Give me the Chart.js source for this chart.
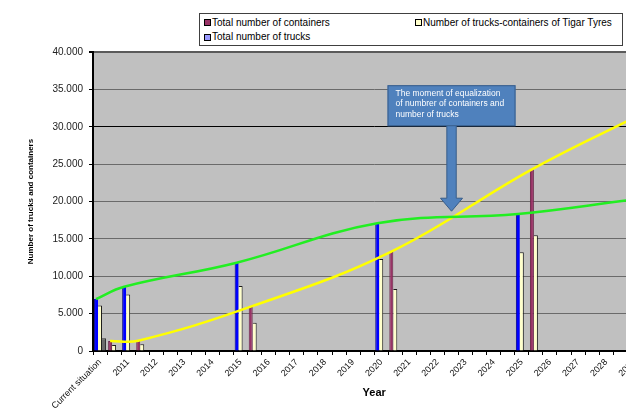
<!DOCTYPE html>
<html>
<head>
<meta charset="utf-8">
<script src="https://cdn.jsdelivr.net/npm/chart.js@4.4.1/dist/chart.umd.min.js"></script>
<style>
  html, body { margin: 0; padding: 0; width: 626px; height: 412px; overflow: hidden; background: #fff; }
  #wrap { position: absolute; left: 0; top: 0; width: 680px; height: 412px; }
  #legend {
    position: absolute; left: 199px; top: 13px; width: 422px; height: 31px;
    border: 1px solid #404040; background: #fff;
    font: 10px "Liberation Sans", Arial, sans-serif; color: #000;
  }
  .item { position: absolute; white-space: nowrap; line-height: 12px; }
  .swatch { position: absolute; width: 5px; height: 5px; border: 1px solid #000; }
</style>
</head>
<body>
<div id="wrap"><canvas id="chart" width="680" height="412"></canvas></div>
<div id="legend"></div>
<script>
// Periods on the x axis; every period has a trucks slot and a containers slot.
const periodLabels = ['Current situation', '2011', '2012', '2013', '2014', '2015', '2016', '2017',
  '2018', '2019', '2020', '2021', '2022', '2023', '2024', '2025', '2026', '2027', '2028', '2029'];

const totalTrucks     = [6950, 8600, null, null, null, 11810, null, null, null, null, 17080, null, null, null, null, 18330, null, null, null, null];
const totalContainers = [1340, 1380, null, null, null, 5930, null, null, null, null, 13290, null, null, null, null, 24310, null, null, null, null];
const tigarTrucks     = [6100, 7550, null, null, null, 8700, null, null, null, null, 12310, null, null, null, null, 13200, null, null, null, null];
const tigarContainers = [800, 900, null, null, null, 3790, null, null, null, null, 8290, null, null, null, null, 15480, null, null, null, null];
const otherUnits      = [1700, null, null, null, null, null, null, null, null, null, null, null, null, null, null, null, null, null, null, null];

// Smoothed growth curves for trucks and containers
const trucksTrend     = [6950, 8600, null, null, null, 11810, null, null, null, null, 17080, null, null, null, null, 18330, null, null, null, 20200];
const containersTrend = [1340, 1380, null, null, null, 5930, null, null, null, null, 13290, null, null, null, null, 24310, null, null, null, 31900];

const yTickValues = [0, 5000, 10000, 15000, 20000, 25000, 30000, 35000, 40000];

const FONT = '"Liberation Sans", Arial, sans-serif';
const CATEGORY_PCT = 0.85;          // three bar positions per slot
const BAR_SHIFT = CATEGORY_PCT / 3; // first bar centre, relative to slot centre
const slotCount = periodLabels.length * 2;

Chart.defaults.font.family = FONT;
Chart.defaults.color = '#111';

// one label per period, on its first slot
const slotLabels = periodLabels.flatMap(l => [l, '']);
const slotTicks = slotLabels.map((_, i) => ({ value: i }));

function toSlots(values, offset) {
  const pts = [];
  values.forEach((v, i) => { if (v !== null) pts.push({ x: 2 * i + offset, y: v }); });
  return pts;
}
function toCurve(values, offset) {
  const pts = [];
  values.forEach((v, i) => { if (v !== null) pts.push({ x: 2 * i + offset - BAR_SHIFT, y: v }); });
  return pts;
}
function thousands(v) { return String(v).replace(/\B(?=(\d{3})+(?!\d))/g, '.'); }

const plotBackground = {
  id: 'plotBackground',
  beforeDraw(chart) {
    const { ctx, chartArea: a } = chart;
    ctx.save();
    ctx.fillStyle = '#C0C0C0';
    ctx.fillRect(a.left, a.top, a.right - a.left, a.bottom - a.top);
    ctx.restore();
  }
};

// Call-out box with a downward arrow pointing at where the two curves meet
const calloutText = ['The moment of equalization', 'of numbrer of containers and', 'number of trucks'];
const calloutTarget = { slot: 25, value: 18700 };
const callout = {
  id: 'callout',
  afterDatasetsDraw(chart) {
    const { ctx } = chart;
    const tx = chart.scales.x.getPixelForValue(calloutTarget.slot);
    const ty = chart.scales.y.getPixelForValue(calloutTarget.value);
    const boxL = tx - 64, boxR = tx + 64, boxT = ty - 126, boxB = ty - 85;
    const shaft = 4.7, head = 11, headH = 13;
    ctx.save();
    ctx.fillStyle = '#4F81BD';
    ctx.strokeStyle = '#385D8A';
    ctx.lineWidth = 1;
    ctx.beginPath();
    ctx.moveTo(tx - shaft, boxB - 1);
    ctx.lineTo(tx - shaft, ty - headH);
    ctx.lineTo(tx - head, ty - headH);
    ctx.lineTo(tx, ty);
    ctx.lineTo(tx + head, ty - headH);
    ctx.lineTo(tx + shaft, ty - headH);
    ctx.lineTo(tx + shaft, boxB - 1);
    ctx.closePath();
    ctx.fill();
    ctx.stroke();
    ctx.fillRect(boxL, boxT, boxR - boxL, boxB - boxT);
    ctx.strokeRect(boxL + 0.5, boxT + 0.5, boxR - boxL - 1, boxB - boxT - 1);
    ctx.fillStyle = '#fff';
    ctx.font = '8.5px ' + FONT;
    ctx.textBaseline = 'middle';
    calloutText.forEach((line, i) => ctx.fillText(line, boxL + 8, boxT + 8.5 + i * 10.3));
    ctx.restore();
  }
};

const barCommon = { categoryPercentage: CATEGORY_PCT, barPercentage: 1, order: 1, borderSkipped: 'bottom' };

const chart = new Chart(document.getElementById('chart'), {
  type: 'bar',
  data: {
    datasets: [
      { ...barCommon, label: 'Total number of containers', data: toSlots(totalContainers, 1), stack: 'main',
        backgroundColor: '#993366', borderColor: '#6B2548', borderWidth: { left: 1, right: 1, top: 1, bottom: 0 } },
      { ...barCommon, label: 'Number of trucks-containers of Tigar Tyres', data: toSlots(tigarTrucks, 0).concat(toSlots(tigarContainers, 1)), stack: 'tigar',
        backgroundColor: '#FFFFCC', borderColor: '#1a1a1a', borderWidth: { left: 0, right: 1, top: 1, bottom: 0 } },
      { ...barCommon, label: 'Total number of trucks', data: toSlots(totalTrucks, 0), stack: 'main',
        backgroundColor: '#0000FF', borderColor: '#00008B', borderWidth: { left: 1, right: 0, top: 0, bottom: 0 } },
      { ...barCommon, label: 'Other', data: toSlots(otherUnits, 0), stack: 'other',
        backgroundColor: '#6A6A6A', borderColor: '#333', borderWidth: { left: 0, right: 1, top: 1, bottom: 0 } },
      { type: 'line', label: 'Trucks curve', data: toCurve(trucksTrend, 0),
        borderColor: '#22EE22', borderWidth: 2.5, pointRadius: 0, tension: 0.4, fill: false, order: 0 },
      { type: 'line', label: 'Containers curve', data: toCurve(containersTrend, 1),
        borderColor: '#FFFF00', borderWidth: 2.5, pointRadius: 0, tension: 0.4, fill: false, order: 0 }
    ]
  },
  options: {
    responsive: false,
    animation: false,
    devicePixelRatio: 1,
    layout: { padding: { top: 52, right: 24.6, left: 0, bottom: 0 } },
    plugins: { legend: { display: false }, tooltip: { enabled: false } },
    scales: {
      x: {
        type: 'linear',
        offset: false,
        min: -0.5, max: slotCount - 0.5,
        afterBuildTicks(s) { s.ticks = slotTicks.map(t => ({ value: t.value })); },
        grid: { offset: true, drawOnChartArea: false, drawTicks: true, tickLength: 4, color: '#000', lineWidth: 1 },
        border: { color: '#000', width: 2 },
        ticks: { autoSkip: false, minRotation: 45, maxRotation: 45, padding: 2, color: '#111', font: { size: 9 },
                 callback: v => slotLabels[v] },
        title: { display: true, text: 'Year', color: '#000', font: { size: 11, weight: 'bold' }, padding: { top: 0, bottom: 12 } },
        afterFit(s) { s.height = 61; }
      },
      y: {
        min: 0, max: 40000,
        afterBuildTicks(s) { s.ticks = yTickValues.map(v => ({ value: v })); },
        ticks: { padding: 6, color: '#222', font: { size: 10 }, callback: v => thousands(v) },
        grid: {
          color: c => (c.tick && c.tick.value === 30000 ? '#000' : (c.tick && c.tick.value === 40000 ? '#5a5a5a' : '#6a6a6a')),
          lineWidth: c => (c.tick && c.tick.value === 40000 ? 2 : 1),
          tickColor: '#000', tickLength: 4
        },
        border: { color: '#000', width: 2 },
        title: { display: true, text: 'Number of trucks and containers', color: '#000', font: { size: 8, weight: 'bold' }, padding: { top: 26, bottom: 0 } },
        afterFit(s) { s.width = 93; }
      }
    }
  },
  plugins: [plotBackground, callout]
});

// Legend in two rows, built from the first three datasets
const legendEl = document.getElementById('legend');
const legendItems = [
  { ds: 0, swatch: '#993366', left: 4, top: 5 },
  { ds: 1, swatch: '#FFFFCC', left: 215, top: 5 },
  { ds: 2, swatch: '#9999FF', left: 4, top: 19.5 }
];
legendItems.forEach(it => {
  const sw = document.createElement('div');
  sw.className = 'swatch';
  sw.style.left = it.left + 'px';
  sw.style.top = it.top + 'px';
  sw.style.background = it.swatch;
  legendEl.appendChild(sw);
  const tx = document.createElement('div');
  tx.className = 'item';
  tx.style.left = (it.left + 8) + 'px';
  tx.style.top = (it.top - 2.5) + 'px';
  tx.textContent = chart.data.datasets[it.ds].label;
  legendEl.appendChild(tx);
});
</script>
</body>
</html>
